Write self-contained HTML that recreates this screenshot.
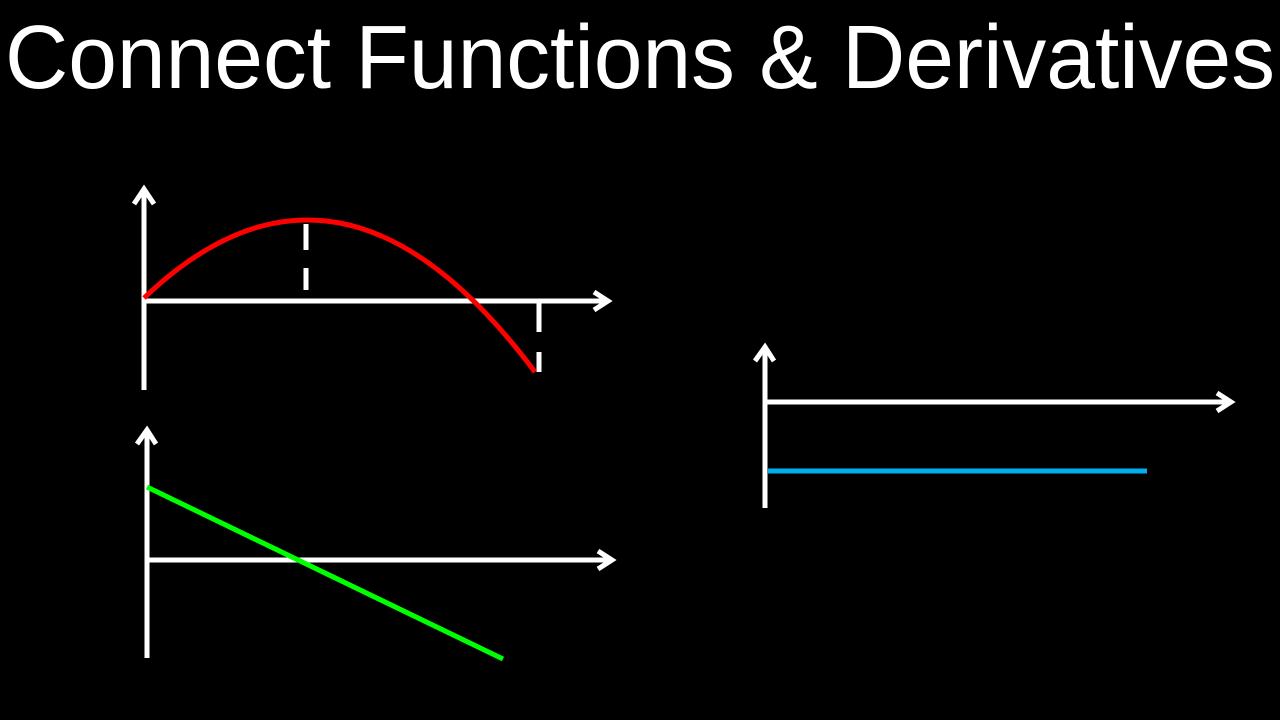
<!DOCTYPE html>
<html><head><style>html,body{margin:0;padding:0;background:#000;width:1280px;height:720px;overflow:hidden}</style></head>
<body>
<svg width="1280" height="720" viewBox="0 0 1280 720" xmlns="http://www.w3.org/2000/svg">
<rect width="1280" height="720" fill="#000"/>
<text x="5" y="88" font-family="Liberation Sans, Arial, sans-serif" font-size="90" fill="#fff" textLength="1270" lengthAdjust="spacingAndGlyphs">Connect Functions &amp; Derivatives</text>
<g stroke="#fff" stroke-width="5" fill="none" stroke-linecap="butt">
<!-- graph 1 -->
<line x1="144" y1="390" x2="144" y2="189"/>
<polyline points="134,204 144,189 154,204" stroke-linejoin="miter"/>
<line x1="144" y1="301" x2="608" y2="301"/>
<polyline points="594,292 608,301 594,310"/>
<line x1="306" y1="224" x2="306" y2="250"/>
<line x1="306" y1="268" x2="306" y2="290"/>
<line x1="539" y1="303" x2="539" y2="332"/>
<line x1="539" y1="352" x2="539" y2="372"/>
<!-- graph 2 -->
<line x1="147" y1="658" x2="147" y2="430"/>
<polyline points="137,444 147,430 156,444"/>
<line x1="147" y1="560" x2="612" y2="560"/>
<polyline points="598,551 612,560 598,569"/>
<!-- graph 3 -->
<line x1="765" y1="508" x2="765" y2="347"/>
<polyline points="755,361 765,347 774,361"/>
<line x1="765" y1="402" x2="1231" y2="402"/>
<polyline points="1217,393 1231,402 1217,411"/>
</g>
<path d="M144,298 Q340,111 535,372" stroke="#ff0000" stroke-width="5" fill="none"/>
<line x1="147" y1="487" x2="503" y2="659" stroke="#00ff00" stroke-width="5"/>
<line x1="768" y1="471" x2="1147" y2="471" stroke="#00b0f0" stroke-width="5"/>
</svg>
</body></html>
